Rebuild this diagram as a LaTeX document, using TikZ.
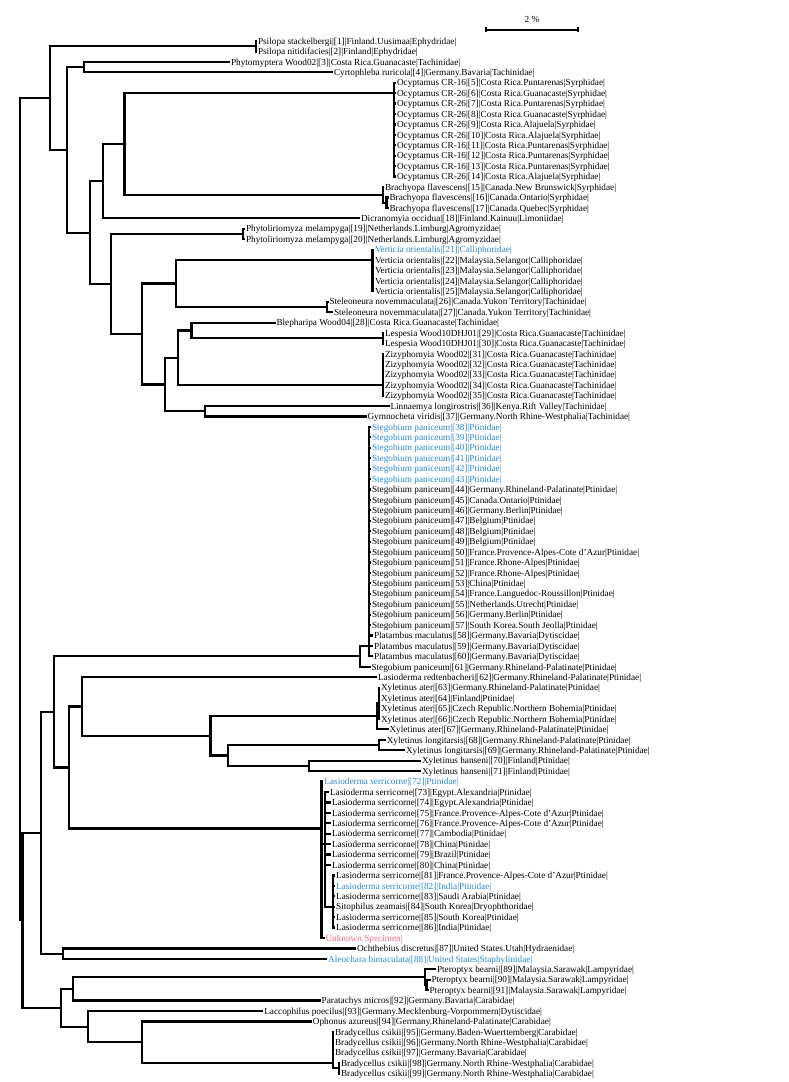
\documentclass[tikz,border=0pt]{standalone}
\usepackage{fontspec}
\setmainfont{Liberation Serif}
\definecolor{lblue}{RGB}{45,135,205}
\definecolor{lpink}{RGB}{240,110,130}
\newcommand\ry[1]{41+10.43*(#1)}
\newcommand\leaf[5]{\coordinate (#1) at (#3,{\ry{#2}});\node[lab,text=#4] (#1t) at (#1) {#5};}
\newcommand\inode[3]{\coordinate (#1) at (#2,{\ry{#3}});}
\tikzset{br/.style={line width=2.2pt},
 lab/.style={anchor=base west,inner sep=0pt,outer sep=0pt,xshift=1pt,yshift=-3.2pt,font=\fontsize{9.25}{10}\selectfont}}
\begin{document}
\begin{tikzpicture}[x=1pt,y=-1pt]
\useasboundingbox (0,0) rectangle (788,1082);
% leaves
\leaf{l1}{0}{257}{black}{Psilopa stackelbergi|[1]|Finland.Uusimaa|Ephydridae|}
\leaf{l2}{1}{257}{black}{Psilopa nitidifacies|[2]|Finland|Ephydridae|}
\leaf{l3}{2}{230}{black}{Phytomyptera Wood02|[3]|Costa Rica.Guanacaste|Tachinidae|}
\leaf{l4}{3}{333}{black}{Cyrtophleba ruricola|[4]|Germany.Bavaria|Tachinidae|}
\leaf{l5}{4}{396}{black}{Ocyptamus CR-16|[5]|Costa Rica.Puntarenas|Syrphidae|}
\leaf{l6}{5}{396}{black}{Ocyptamus CR-26|[6]|Costa Rica.Guanacaste|Syrphidae|}
\leaf{l7}{6}{396}{black}{Ocyptamus CR-26|[7]|Costa Rica.Puntarenas|Syrphidae|}
\leaf{l8}{7}{396}{black}{Ocyptamus CR-26|[8]|Costa Rica.Guanacaste|Syrphidae|}
\leaf{l9}{8}{396}{black}{Ocyptamus CR-26|[9]|Costa Rica.Alajuela|Syrphidae|}
\leaf{l10}{9}{396}{black}{Ocyptamus CR-26|[10]|Costa Rica.Alajuela|Syrphidae|}
\leaf{l11}{10}{396}{black}{Ocyptamus CR-16|[11]|Costa Rica.Puntarenas|Syrphidae|}
\leaf{l12}{11}{396}{black}{Ocyptamus CR-16|[12]|Costa Rica.Puntarenas|Syrphidae|}
\leaf{l13}{12}{396}{black}{Ocyptamus CR-16|[13]|Costa Rica.Puntarenas|Syrphidae|}
\leaf{l14}{13}{396}{black}{Ocyptamus CR-26|[14]|Costa Rica.Alajuela|Syrphidae|}
\leaf{l15}{14}{384}{black}{Brachyopa flavescens|[15]|Canada.New Brunswick|Syrphidae|}
\leaf{l16}{15}{388.5}{black}{Brachyopa flavescens|[16]|Canada.Ontario|Syrphidae|}
\leaf{l17}{16}{388.5}{black}{Brachyopa flavescens|[17]|Canada.Quebec|Syrphidae|}
\leaf{l18}{17}{360}{black}{Dicranomyia occidua|[18]|Finland.Kainuu|Limoniidae|}
\leaf{l19}{18}{245}{black}{Phytoliriomyza melampyga|[19]|Netherlands.Limburg|Agromyzidae|}
\leaf{l20}{19}{245}{black}{Phytoliriomyza melampyga|[20]|Netherlands.Limburg|Agromyzidae|}
\leaf{l21}{20}{374}{lblue}{Verticia orientalis|[21]|Calliphoridae|}
\leaf{l22}{21}{374}{black}{Verticia orientalis|[22]|Malaysia.Selangor|Calliphoridae|}
\leaf{l23}{22}{374}{black}{Verticia orientalis|[23]|Malaysia.Selangor|Calliphoridae|}
\leaf{l24}{23}{374}{black}{Verticia orientalis|[24]|Malaysia.Selangor|Calliphoridae|}
\leaf{l25}{24}{374}{black}{Verticia orientalis|[25]|Malaysia.Selangor|Calliphoridae|}
\leaf{l26}{25}{328.5}{black}{Steleoneura novemmaculata|[26]|Canada.Yukon Territory|Tachinidae|}
\leaf{l27}{26}{333}{black}{Steleoneura novemmaculata|[27]|Canada.Yukon Territory|Tachinidae|}
\leaf{l28}{27}{275.5}{black}{Blepharipa Wood04|[28]|Costa Rica.Guanacaste|Tachinidae|}
\leaf{l29}{28}{384}{black}{Lespesia Wood10DHJ01|[29]|Costa Rica.Guanacaste|Tachinidae|}
\leaf{l30}{29}{384}{black}{Lespesia Wood10DHJ01|[30]|Costa Rica.Guanacaste|Tachinidae|}
\leaf{l31}{30}{384}{black}{Zizyphomyia Wood02|[31]|Costa Rica.Guanacaste|Tachinidae|}
\leaf{l32}{31}{384}{black}{Zizyphomyia Wood02|[32]|Costa Rica.Guanacaste|Tachinidae|}
\leaf{l33}{32}{384}{black}{Zizyphomyia Wood02|[33]|Costa Rica.Guanacaste|Tachinidae|}
\leaf{l34}{33}{384}{black}{Zizyphomyia Wood02|[34]|Costa Rica.Guanacaste|Tachinidae|}
\leaf{l35}{34}{384}{black}{Zizyphomyia Wood02|[35]|Costa Rica.Guanacaste|Tachinidae|}
\leaf{l36}{35}{389.5}{black}{Linnaemya longirostris|[36]|Kenya.Rift Valley|Tachinidae|}
\leaf{l37}{36}{366.5}{black}{Gymnocheta viridis|[37]|Germany.North Rhine-Westphalia|Tachinidae|}
\leaf{l38}{37}{371}{lblue}{Stegobium paniceum|[38]|Ptinidae|}
\leaf{l39}{38}{371}{lblue}{Stegobium paniceum|[39]|Ptinidae|}
\leaf{l40}{39}{371}{lblue}{Stegobium paniceum|[40]|Ptinidae|}
\leaf{l41}{40}{371}{lblue}{Stegobium paniceum|[41]|Ptinidae|}
\leaf{l42}{41}{371}{lblue}{Stegobium paniceum|[42]|Ptinidae|}
\leaf{l43}{42}{371}{lblue}{Stegobium paniceum|[43]|Ptinidae|}
\leaf{l44}{43}{371}{black}{Stegobium paniceum|[44]|Germany.Rhineland-Palatinate|Ptinidae|}
\leaf{l45}{44}{371}{black}{Stegobium paniceum|[45]|Canada.Ontario|Ptinidae|}
\leaf{l46}{45}{371}{black}{Stegobium paniceum|[46]|Germany.Berlin|Ptinidae|}
\leaf{l47}{46}{371}{black}{Stegobium paniceum|[47]|Belgium|Ptinidae|}
\leaf{l48}{47}{371}{black}{Stegobium paniceum|[48]|Belgium|Ptinidae|}
\leaf{l49}{48}{371}{black}{Stegobium paniceum|[49]|Belgium|Ptinidae|}
\leaf{l50}{49}{371}{black}{Stegobium paniceum|[50]|France.Provence-Alpes-Cote d'Azur|Ptinidae|}
\leaf{l51}{50}{371}{black}{Stegobium paniceum|[51]|France.Rhone-Alpes|Ptinidae|}
\leaf{l52}{51}{371}{black}{Stegobium paniceum|[52]|France.Rhone-Alpes|Ptinidae|}
\leaf{l53}{52}{371}{black}{Stegobium paniceum|[53]|China|Ptinidae|}
\leaf{l54}{53}{371}{black}{Stegobium paniceum|[54]|France.Languedoc-Roussillon|Ptinidae|}
\leaf{l55}{54}{371}{black}{Stegobium paniceum|[55]|Netherlands.Utrecht|Ptinidae|}
\leaf{l56}{55}{371}{black}{Stegobium paniceum|[56]|Germany.Berlin|Ptinidae|}
\leaf{l57}{56}{371}{black}{Stegobium paniceum|[57]|South Korea.South Jeolla|Ptinidae|}
\leaf{l58}{57}{373}{black}{Platambus maculatus|[58]|Germany.Bavaria|Dytiscidae|}
\leaf{l59}{58}{373}{black}{Platambus maculatus|[59]|Germany.Bavaria|Dytiscidae|}
\leaf{l60}{59}{373}{black}{Platambus maculatus|[60]|Germany.Bavaria|Dytiscidae|}
\leaf{l61}{60}{370.5}{black}{Stegobium paniceum|[61]|Germany.Rhineland-Palatinate|Ptinidae|}
\leaf{l62}{61}{377}{black}{Lasioderma redtenbacheri|[62]|Germany.Rhineland-Palatinate|Ptinidae|}
\leaf{l63}{62}{380}{black}{Xyletinus ater|[63]|Germany.Rhineland-Palatinate|Ptinidae|}
\leaf{l64}{63}{380}{black}{Xyletinus ater|[64]|Finland|Ptinidae|}
\leaf{l65}{64}{380}{black}{Xyletinus ater|[65]|Czech Republic.Northern Bohemia|Ptinidae|}
\leaf{l66}{65}{380}{black}{Xyletinus ater|[66]|Czech Republic.Northern Bohemia|Ptinidae|}
\leaf{l67}{66}{388.5}{black}{Xyletinus ater|[67]|Germany.Rhineland-Palatinate|Ptinidae|}
\leaf{l68}{67}{385.8}{black}{Xyletinus longitarsis|[68]|Germany.Rhineland-Palatinate|Ptinidae|}
\leaf{l69}{68}{405}{black}{Xyletinus longitarsis|[69]|Germany.Rhineland-Palatinate|Ptinidae|}
\leaf{l70}{69}{421}{black}{Xyletinus hanseni|[70]|Finland|Ptinidae|}
\leaf{l71}{70}{421}{black}{Xyletinus hanseni|[71]|Finland|Ptinidae|}
\leaf{l72}{71}{323.4}{lblue}{Lasioderma serricorne|[72]|Ptinidae|}
\leaf{l73}{72}{329}{black}{Lasioderma serricorne|[73]|Egypt.Alexandria|Ptinidae|}
\leaf{l74}{73}{331}{black}{Lasioderma serricorne|[74]|Egypt.Alexandria|Ptinidae|}
\leaf{l75}{74}{331}{black}{Lasioderma serricorne|[75]|France.Provence-Alpes-Cote d'Azur|Ptinidae|}
\leaf{l76}{75}{331}{black}{Lasioderma serricorne|[76]|France.Provence-Alpes-Cote d'Azur|Ptinidae|}
\leaf{l77}{76}{331}{black}{Lasioderma serricorne|[77]|Cambodia|Ptinidae|}
\leaf{l78}{77}{331}{black}{Lasioderma serricorne|[78]|China|Ptinidae|}
\leaf{l79}{78}{331}{black}{Lasioderma serricorne|[79]|Brazil|Ptinidae|}
\leaf{l80}{79}{331}{black}{Lasioderma serricorne|[80]|China|Ptinidae|}
\leaf{l81}{80}{335.2}{black}{Lasioderma serricorne|[81]|France.Provence-Alpes-Cote d'Azur|Ptinidae|}
\leaf{l82}{81}{335.2}{lblue}{Lasioderma serricorne|[82]|India|Ptinidae|}
\leaf{l83}{82}{335.2}{black}{Lasioderma serricorne|[83]|Saudi Arabia|Ptinidae|}
\leaf{l84}{83}{335.2}{black}{Sitophilus zeamais|[84]|South Korea|Dryophthoridae|}
\leaf{l85}{84}{335.2}{black}{Lasioderma serricorne|[85]|South Korea|Ptinidae|}
\leaf{l86}{85}{335.2}{black}{Lasioderma serricorne|[86]|India|Ptinidae|}
\leaf{lU}{86}{324.5}{lpink}{Unknown Specimen|}
\leaf{l87}{87}{356}{black}{Ochthebius discretus|[87]|United States.Utah|Hydraenidae|}
\leaf{l88}{88}{327.2}{lblue}{Aleochara bimaculata|[88]|United States|Staphylinidae|}
\leaf{l89}{89}{436}{black}{Pteroptyx bearni|[89]|Malaysia.Sarawak|Lampyridae|}
\leaf{l90}{90}{430.5}{black}{Pteroptyx bearni|[90]|Malaysia.Sarawak|Lampyridae|}
\leaf{l91}{91}{428.6}{black}{Pteroptyx bearni|[91]|Malaysia.Sarawak|Lampyridae|}
\leaf{l92}{92}{320.7}{black}{Paratachys micros|[92]|Germany.Bavaria|Carabidae|}
\leaf{l93}{93}{263.3}{black}{Laccophilus poecilus|[93]|Germany.Mecklenburg-Vorpommern|Dytiscidae|}
\leaf{l94}{94}{311.9}{black}{Ophonus azureus|[94]|Germany.Rhineland-Palatinate|Carabidae|}
\leaf{l95}{95}{334}{black}{Bradycellus csikii|[95]|Germany.Baden-Wuerttemberg|Carabidae|}
\leaf{l96}{96}{334}{black}{Bradycellus csikii|[96]|Germany.North Rhine-Westphalia|Carabidae|}
\leaf{l97}{97}{334}{black}{Bradycellus csikii|[97]|Germany.Bavaria|Carabidae|}
\leaf{l98}{98}{340}{black}{Bradycellus csikii|[98]|Germany.North Rhine-Westphalia|Carabidae|}
\leaf{l99}{99}{340}{black}{Bradycellus csikii|[99]|Germany.North Rhine-Westphalia|Carabidae|}
% internal nodes
\inode{R}{20}{45}
\inode{R2}{22.5}{84.3}
\inode{T1}{49.8}{5.47}
\inode{P12}{255.6}{0.5}
\inode{T2}{67}{10.43}
\inode{NC}{84.2}{2.5}
\inode{ND}{90}{18.37}
\inode{NE}{103.3}{13.44}
\inode{NS}{124.4}{9.875}
\inode{O}{394.2}{5}
\inode{BY}{382.7}{14.75}
\inode{BY2}{386.5}{15.5}
\inode{NF}{111}{23.3}
\inode{P19}{243}{18.5}
\inode{NG}{141.6}{28.09}
\inode{NV}{176}{23.25}
\inode{V}{372.5}{21}
\inode{S26}{327.2}{25.5}
\inode{NT}{164.6}{32.94}
\inode{NB2}{178}{30.375}
\inode{NL}{191.4}{27.75}
\inode{L29}{382.7}{28.5}
\inode{Z}{382.7}{33}
\inode{NLG}{204.7}{35.5}
\inode{M}{41.3}{75.9}
\inode{K}{53.6}{64.3}
\inode{SP}{359.7}{59}
\inode{SP2}{369.3}{58}
\inode{J}{68.9}{69.65}
\inode{I}{82.3}{63.8}
\inode{Xy}{210.5}{66.6}
\inode{XA}{377}{64.75}
\inode{XA2}{378.9}{63.5}
\inode{XB}{227.7}{68.5}
\inode{XL}{378.9}{67.5}
\inode{XH}{309.2}{69.5}
\inode{LS}{321.5}{75.5}
\inode{LS2}{325.3}{77}
\inode{LS4}{333}{83}
\inode{M2}{63.1}{87.5}
\inode{B}{61.2}{92.69}
\inode{PP}{72.7}{90.875}
\inode{PT}{424.8}{89.75}
\inode{PT2}{426.5}{90.5}
\inode{LO}{88}{94.5}
\inode{OB}{141.6}{96}
\inode{BR}{333}{98}
\inode{BR2}{338.7}{98.5}
% branches
\foreach \p/\c in {R/T1,R/R2,R2/M,R2/B,T1/P12,T1/T2,P12/l1,P12/l2,T2/NC,T2/ND,NC/l3,NC/l4,
 ND/NE,ND/NF,NE/NS,NE/l18,NS/O,NS/BY,BY/l15,BY/BY2,BY2/l16,BY2/l17,
 NF/P19,NF/NG,P19/l19,P19/l20,NG/NV,NG/NT,NV/V,NV/S26,S26/l26,S26/l27,
 NT/NB2,NT/NLG,NB2/NL,NB2/Z,NL/l28,NL/L29,L29/l29,L29/l30,NLG/l36,NLG/l37,
 M/K,M/M2,K/SP,K/J,SP/SP2,SP/l61,J/I,J/LS,I/l62,I/Xy,Xy/XA,Xy/XB,
 XA/XA2,XA/l67,XB/XL,XB/XH,XL/l68,XL/l69,XH/l70,XH/l71,
 LS/l72,LS/LS2,LS/lU,LS2/l73,LS2/LS4,M2/l87,M2/l88,
 B/PP,B/LO,PP/PT,PP/l92,PT/l89,PT/PT2,PT2/l90,PT2/l91,
 LO/l93,LO/OB,OB/l94,OB/BR,BR/l95,BR/l96,BR/l97,BR/BR2,BR2/l98,BR2/l99}
 \draw[br] (\p) |- (\c);
\foreach \i in {5,...,14} \draw[br] (O) |- (l\i);
\foreach \i in {21,...,25} \draw[br] (V) |- (l\i);
\foreach \i in {31,...,35} \draw[br] (Z) |- (l\i);
\foreach \i in {38,...,60} \draw[br] (SP2) |- (l\i);
\foreach \i in {63,...,66} \draw[br] (XA2) |- (l\i);
\foreach \i in {74,...,80} \draw[br] (LS2) |- (l\i);
\foreach \i in {81,...,86} \draw[br] (LS4) |- (l\i);
% scale bar
\coordinate (sbL) at (486,30);
\coordinate (sbR) at (578,30);
\draw[line width=1.6pt] (sbL) -- (sbR);
\draw[line width=1.2pt] (sbL) ++(0,-3.5) -- ++(0,5) (sbR) ++(0,-3.5) -- ++(0,5);
\node[font=\fontsize{9.25}{10}\selectfont] (sbT) at (532,19) {2 \%};
\end{tikzpicture}
\end{document}
